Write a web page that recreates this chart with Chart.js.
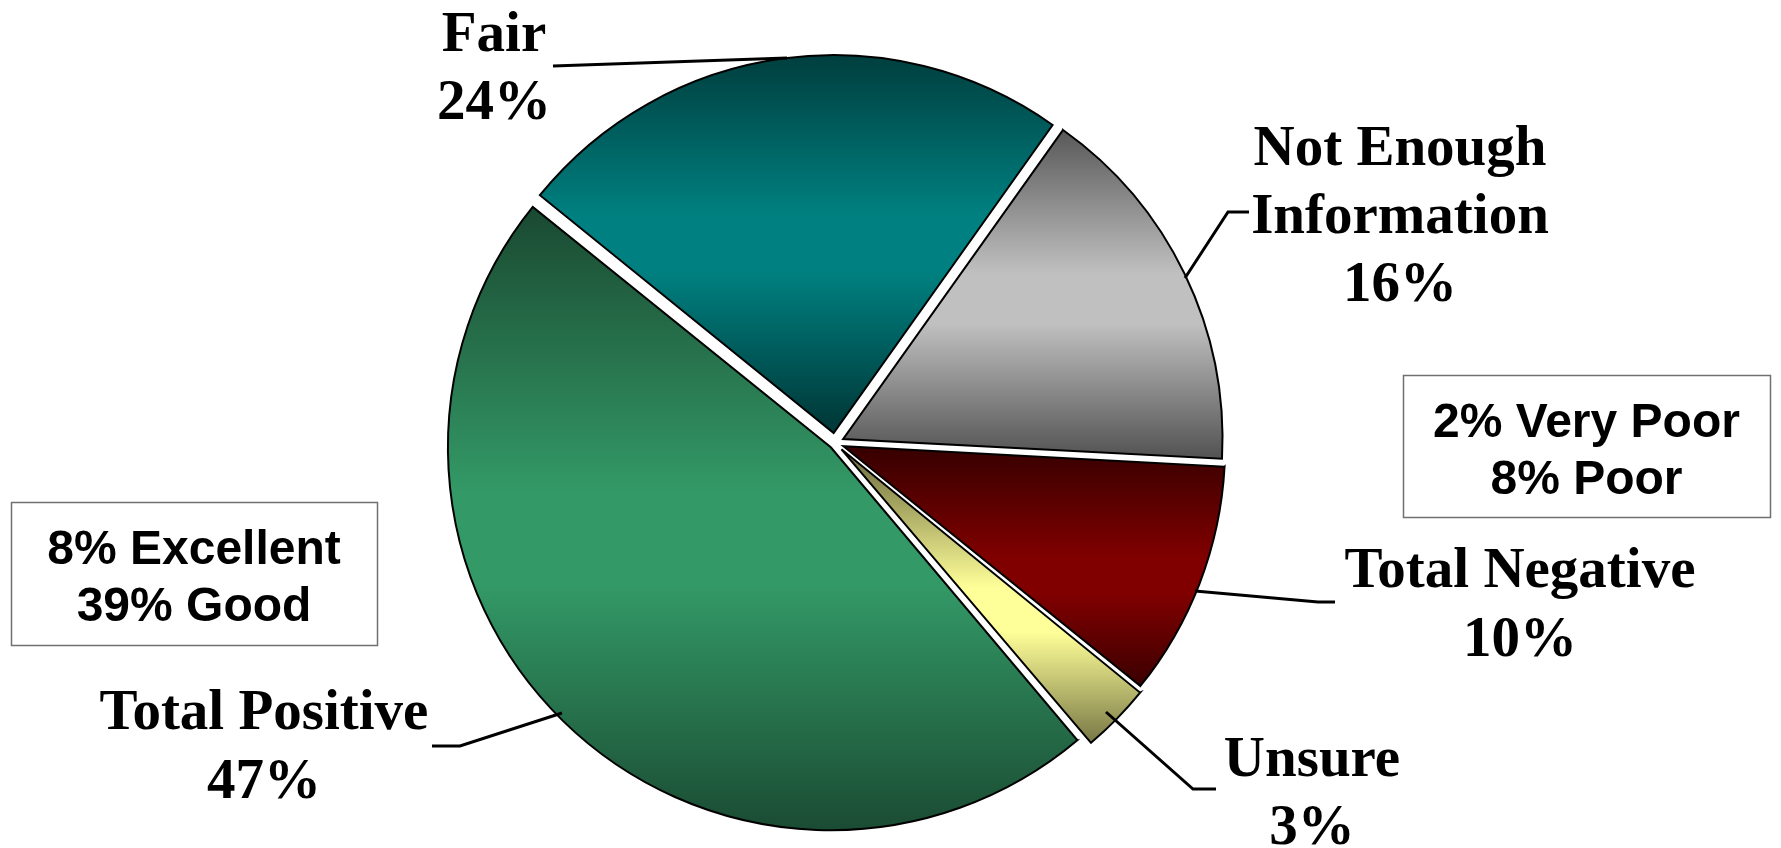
<!DOCTYPE html>
<html>
<head>
<meta charset="utf-8">
<script src="https://cdn.jsdelivr.net/npm/chart.js@4"></script>
<style>
  html, body { margin: 0; padding: 0; background: #fff; }
  #wrap { width: 1781px; height: 848px; }
</style>
</head>
<body>
<div id="wrap"><canvas id="grafico"></canvas></div>
<script>
// data
const categories = ['Fair', 'Not Enough Information', 'Total Negative', 'Unsure', 'Total Positive'];
const shares = [24, 16, 10, 3, 47];
const posParts = ['Excellent', 'Good'];
const posValues = [8, 39];
const negParts = ['Very Poor', 'Poor'];
const negValues = [2, 8];

// colours: middle of each slice and its darker ends
const midColors = ['#008080', '#c0c0c0', '#800000', '#ffff99', '#339966'];
const endColors = ['#003a3a', '#555555', '#380000', '#6f6f40', '#1a4a32'];
// pixels each slice is pulled out (the big slice also grows, so it moves less)
const sliceOffsets = [10, 9, 9, 9, 6];

const ROTATION = 309;
const RADIUS = 378;

function sliceGradient(ctx) {
    const chart = ctx.chart;
    const area = chart.chartArea;
    const i = ctx.dataIndex;
    if (!area) return midColors[i];
    const total = shares.reduce((a, b) => a + b, 0);
    let start = (ROTATION - 90) * Math.PI / 180;
    for (let k = 0; k < i; k++) start += shares[k] / total * 2 * Math.PI;
    const sweep = shares[i] / total * 2 * Math.PI;
    const end = start + sweep;
    const mid = (start + end) / 2;
    const off = sliceOffsets[i];
    const r = RADIUS + off * (1 - Math.sin(Math.min(Math.PI, sweep)));
    const cy = (area.top + area.bottom) / 2 + Math.sin(mid) * off;
    const ys = [cy, cy + r * Math.sin(start), cy + r * Math.sin(end)];
    for (let k = -2; k < 8; k++) {
        const a = Math.PI / 2 + k * Math.PI;
        if (a > start && a < end) ys.push(cy + r * Math.sin(a));
    }
    const y0 = Math.min(...ys), y1 = Math.max(...ys);
    const g = chart.ctx.createLinearGradient(0, y0, 0, y1);
    g.addColorStop(0, endColors[i]);
    g.addColorStop(0.45, midColors[i]);
    g.addColorStop(0.6, midColors[i]);
    g.addColorStop(1, endColors[i]);
    return g;
}

// where each slice label sits, and its leader line
const labelLayout = [
    { lines: ['Fair'], cx: 494, base: [51, 119], leader: [[553, 66], [787, 58]] },
    { lines: ['Not Enough', 'Information'], cx: 1400, base: [165, 233, 301], leader: [[1185, 278], [1228, 212], [1249, 212]] },
    { lines: ['Total Negative'], cx: 1520, base: [587, 656], leader: [[1195, 591], [1318, 602], [1335, 602]] },
    { lines: ['Unsure'], cx: 1312, base: [776, 844], leader: [[1106, 712], [1193, 789], [1216, 789]] },
    { lines: ['Total Positive'], cx: 264, base: [729, 798], leader: [[562, 713], [460, 746], [432, 746]] }
];
const boxLayout = [
    { parts: posParts, values: posValues, x: 11, y: 502, w: 366, h: 143, base: [564, 621] },
    { parts: negParts, values: negValues, x: 1403, y: 375, w: 367, h: 142, base: [437, 494] }
];

const labelPlugin = {
    id: 'labelPlugin',
    afterDraw(chart) {
        const c = chart.ctx;
        c.save();
        c.textAlign = 'center';
        c.textBaseline = 'alphabetic';
        c.fillStyle = '#000';
        c.font = 'bold 57px "Liberation Serif", "Times New Roman", serif';
        labelLayout.forEach((lab, i) => {
            const texts = lab.lines.concat([shares[i] + '%']);
            texts.forEach((t, j) => c.fillText(t, lab.cx, lab.base[j]));
            c.beginPath();
            c.lineWidth = 3;
            c.strokeStyle = '#000';
            lab.leader.forEach((p, j) => j === 0 ? c.moveTo(p[0], p[1]) : c.lineTo(p[0], p[1]));
            c.stroke();
        });
        c.font = 'bold 48px "Liberation Sans", Arial, sans-serif';
        boxLayout.forEach(b => {
            c.fillStyle = '#fff';
            c.fillRect(b.x, b.y, b.w, b.h);
            c.lineWidth = 1.5;
            c.strokeStyle = '#707070';
            c.strokeRect(b.x + 0.5, b.y + 0.5, b.w, b.h);
            c.fillStyle = '#000';
            b.parts.forEach((p, j) => c.fillText(b.values[j] + '% ' + p, b.x + b.w / 2, b.base[j]));
        });
        c.restore();
    }
};

new Chart(document.getElementById('grafico').getContext('2d'), {
    type: 'pie',
    data: {
        labels: categories,
        datasets: [{
            data: shares,
            backgroundColor: sliceGradient,
            borderColor: '#000',
            borderWidth: 2,
            // the arc element moves a slice by a quarter of this value
            offset: ctx => sliceOffsets[ctx.dataIndex] * 4,
            borderJoinStyle: 'miter'
        }]
    },
    options: {
        responsive: true,
        maintainAspectRatio: false,
        animation: false,
        rotation: ROTATION,
        radius: RADIUS,
        layout: { padding: { left: 0, right: 111, top: 38, bottom: 0 } },
        plugins: {
            legend: { display: false },
            tooltip: { enabled: false }
        }
    },
    plugins: [labelPlugin]
});
</script>
</body>
</html>
